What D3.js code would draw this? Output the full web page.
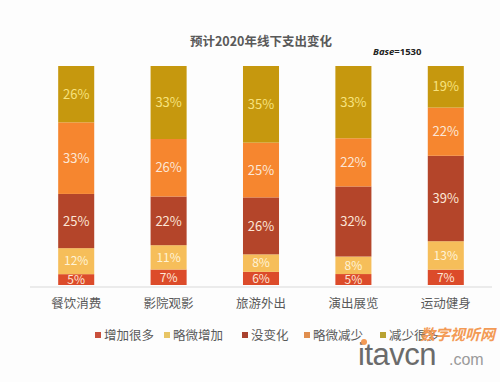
<!DOCTYPE html>
<html><head><meta charset="utf-8">
<script src="https://cdn.jsdelivr.net/npm/d3@7"></script>
<style>body{margin:0;background:#fdfdfd;}svg{display:block;}</style>
</head><body>
<svg id="c" width="500" height="382"></svg>
<script>
const categories = ["餐饮消费","影院观影","旅游外出","演出展览","运动健身"];
const seriesNames = ["增加很多","略微增加","没变化","略微减少","减少很多"];
const increaseMuch = [5,7,6,5,7];
const increaseSlight = [12,11,8,8,13];
const noChange = [25,22,26,32,39];
const decreaseSlight = [33,26,25,22,22];
const decreaseMuch = [26,33,35,33,19];
const seriesValues = [increaseMuch, increaseSlight, noChange, decreaseSlight, decreaseMuch];
const colors = ["#DC4B2A","#F6BE5A","#B4452A","#F6862F","#C6980E"];
const legendColors = ["#C9503C","#E8C565","#A9422F","#E08E4E","#B8A232"];

const svg = d3.select("#c");
svg.append("rect").attr("width",500).attr("height",382).attr("fill","#fdfdfd");

const x = d3.scaleBand().domain(categories).range([30,492]).paddingInner(0.61).paddingOuter(0.305);
const y = d3.scaleLinear().domain([0,1]).range([285,66]);

const rows = categories.map((c,i)=>{
  const o = {cat:c};
  const tot = d3.sum(seriesValues, s=>s[i]);
  seriesNames.forEach((n,j)=>{o[n]=seriesValues[j][i]/tot; o[n+"_raw"]=seriesValues[j][i];});
  return o;
});
const stack = d3.stack().keys(seriesNames)(rows);

const g = svg.append("g");
stack.forEach((layer,j)=>{
  g.selectAll(null).data(layer).enter().append("rect")
    .attr("x",d=>x(d.data.cat)).attr("width",x.bandwidth())
    .attr("y",d=>y(d[1])).attr("height",d=>y(d[0])-y(d[1]))
    .attr("fill",colors[j]);
});
stack.forEach((layer,j)=>{
  g.selectAll(null).data(layer).enter().append("text")
    .attr("x",d=>x(d.data.cat)+x.bandwidth()/2)
    .attr("y",d=>(y(d[0])+y(d[1]))/2)
    .attr("dy","0.36em").attr("text-anchor","middle")
    .attr("font-family","'Noto Sans CJK SC','Open Sans',sans-serif").attr("font-size",j<2?12:13)
    .attr("fill", j===4 ? "#F7E27E" : (j===1 ? "#FFF3D6" : "#FCE6D6"))
    .text(d=>d.data[layer.key+"_raw"]+"%");
});

// axis
const ax = svg.append("g").attr("transform","translate(0,287)")
  .call(d3.axisBottom(x).tickSize(0).tickPadding(12));
ax.select(".domain").attr("stroke","#d9d9d9").attr("d","M30,0H492");
ax.selectAll("text").attr("font-family","'Noto Sans CJK SC',sans-serif").attr("font-size",12.5).attr("fill","#595959");

// title
svg.append("text").attr("x",261).attr("y",46).attr("text-anchor","middle")
  .attr("font-family","'Noto Sans CJK SC',sans-serif").attr("font-weight","bold").attr("font-size",12.5)
  .attr("fill","#595959").text("预计2020年线下支出变化");
const bt = svg.append("text").attr("x",373).attr("y",55)
  .attr("font-family","'Open Sans','DejaVu Sans',sans-serif").attr("font-weight","bold").attr("font-size",9.5).attr("fill","#222");
bt.append("tspan").attr("font-style","italic").text("Base");
bt.append("tspan").text("=1530");

// legend
const legX = [95,164,242,304,380];
const lg = svg.append("g");
seriesNames.forEach((n,i)=>{
  lg.append("rect").attr("x",legX[i]).attr("y",332).attr("width",6).attr("height",6).attr("fill",legendColors[i]);
  lg.append("text").attr("x",legX[i]+9).attr("y",335).attr("dy","0.36em")
    .attr("font-family","'Noto Sans CJK SC',sans-serif").attr("font-size",12.5).attr("fill","#595959").text(n);
});

// watermark
svg.append("text").attr("x",420).attr("y",340).attr("font-family","'Noto Sans CJK SC',sans-serif")
  .attr("font-size",15).attr("font-weight","bold").attr("font-style","italic").attr("fill","#F39A55").text("数字视听网");
svg.append("text").attr("x",358).attr("y",365).attr("font-family","'Liberation Sans',Arial,sans-serif")
  .attr("font-size",31).attr("fill","#6b6b6b").attr("letter-spacing","-0.5").text("itavcn");
svg.append("circle").attr("cx",364).attr("cy",342).attr("r",3).attr("fill","#F39A55");
svg.append("text").attr("x",449).attr("y",365).attr("font-family","'Liberation Sans',Arial,sans-serif")
  .attr("font-size",16).attr("fill","#9a9a9a").text(".com");
</script>
</body></html>
